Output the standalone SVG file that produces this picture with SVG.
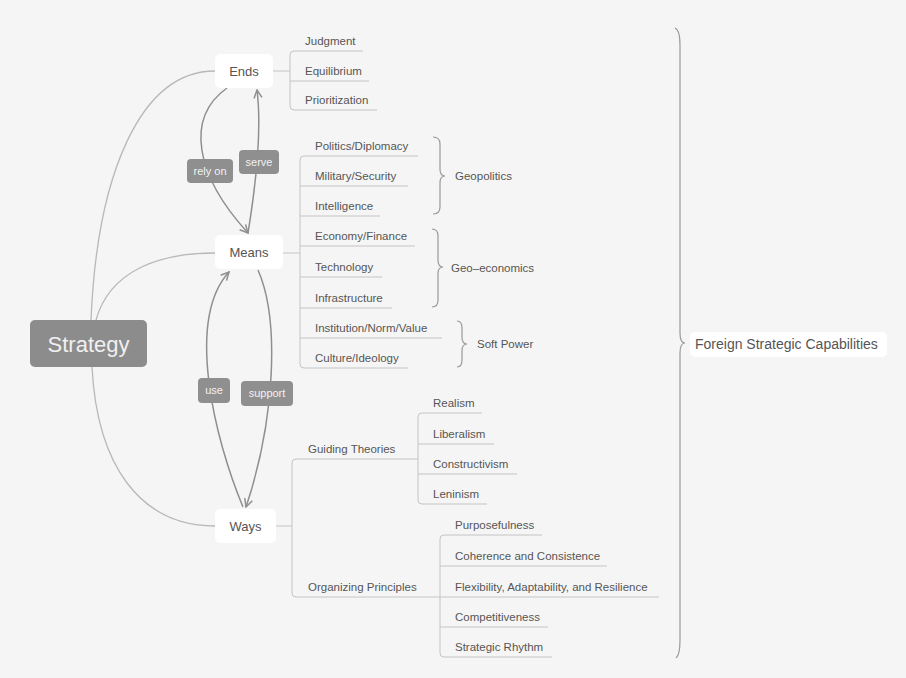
<svg xmlns="http://www.w3.org/2000/svg" width="906" height="678" viewBox="0 0 906 678">
<style>
text{font-family:"Liberation Sans",Arial,sans-serif;fill:#555}
.c{font-size:11.5px}
.n{font-size:13px;text-anchor:middle}
.lbl{font-size:11px;fill:#f2f2f2;text-anchor:middle}
.tree{fill:none;stroke:#c4c4c4;stroke-width:1}
.main{fill:none;stroke:#b8b8b8;stroke-width:1.3}
.rel{fill:none;stroke:#8f8f8f;stroke-width:1.5}
.br{fill:none;stroke:#999;stroke-width:1.2}
.box{fill:#fff}
.tag{fill:#8f8f8f}
</style>
<defs>
<marker id="ah" viewBox="0 0 10 10" refX="9" refY="5" markerWidth="10" markerHeight="10" markerUnits="userSpaceOnUse" orient="auto">
<path d="M1,1 L9,5 L1,9" fill="none" stroke="#8f8f8f" stroke-width="1.5"/>
</marker>
</defs>
<rect width="906" height="678" fill="#f5f5f5"/>

<g id="connectors">
<path class="main" d="M91 320 C97 175 140 71 215 71"/>
<path class="main" d="M96 320 C110 270 160 253 215 253"/>
<path class="main" d="M92 367 C97 465 140 526 215 526"/>
<path class="tree" d="M273 71 H290"/>
<path class="tree" d="M283 253 H300"/>
<path class="tree" d="M276 526 H292"/>
<path class="rel" d="M227 88 C185 118 195 175 248 233" marker-end="url(#ah)"/>
<path class="rel" d="M248 233 C255 190 262 130 257 90" marker-end="url(#ah)"/>
<path class="rel" d="M243 507 C215 440 185 320 229 272" marker-end="url(#ah)"/>
<path class="rel" d="M258 270 C280 320 275 420 246 507" marker-end="url(#ah)"/>
</g>

<g id="strategy">
<rect x="30" y="320" width="117" height="47" rx="5" fill="#8c8c8c"/>
<text x="88.5" y="352" style="font-size:22px;fill:#f0f0f0;text-anchor:middle">Strategy</text>
</g>

<g id="ends">
<rect class="box" x="215" y="54" width="58" height="34" rx="5"/>
<text class="n" x="244" y="76">Ends</text>
</g>
<g id="means">
<rect class="box" x="215" y="235" width="68" height="34" rx="5"/>
<text class="n" x="249" y="257">Means</text>
</g>
<g id="ways">
<rect class="box" x="215" y="509" width="61" height="34" rx="5"/>
<text class="n" x="245.5" y="531">Ways</text>
</g>

<g id="label-rely-on">
<rect class="tag" x="187" y="159" width="46" height="24" rx="4"/>
<text class="lbl" x="210" y="175">rely on</text>
</g>
<g id="label-serve">
<rect class="tag" x="239" y="150" width="40" height="24" rx="4"/>
<text class="lbl" x="259" y="166">serve</text>
</g>
<g id="label-use">
<rect class="tag" x="198" y="378" width="32" height="25" rx="4"/>
<text class="lbl" x="214" y="394">use</text>
</g>
<g id="label-support">
<rect class="tag" x="241" y="381" width="52" height="25" rx="4"/>
<text class="lbl" x="267" y="397">support</text>
</g>

<g id="ends-children">
<path class="tree" d="M363 51 H294 Q290 51 290 55 V106 Q290 110 294 110 H377 M290 81 H369"/>
<text class="c" x="305" y="45">Judgment</text>
<text class="c" x="305" y="75">Equilibrium</text>
<text class="c" x="305" y="104">Prioritization</text>
</g>

<g id="means-children">
<path class="tree" d="M418 156 H304 Q300 156 300 160 V364 Q300 368 304 368 H408 M300 186 H408 M300 216 H380 M300 246 H415 M300 277 H382 M300 308 H392 M300 338 H442"/>
<text class="c" x="315" y="150">Politics/Diplomacy</text>
<text class="c" x="315" y="180">Military/Security</text>
<text class="c" x="315" y="210">Intelligence</text>
<text class="c" x="315" y="240">Economy/Finance</text>
<text class="c" x="315" y="271">Technology</text>
<text class="c" x="315" y="302">Infrastructure</text>
<text class="c" x="315" y="332">Institution/Norm/Value</text>
<text class="c" x="315" y="362">Culture/Ideology</text>
</g>

<g id="geopolitics">
<path class="br" d="M433 137 Q440 137 440 144 V169 Q440 176 445 176 Q440 176 440 183 V207 Q440 214 433 214"/>
<text class="c" x="455" y="180">Geopolitics</text>
</g>
<g id="geo-economics">
<path class="br" d="M432 229 Q438 229 438 236 V260 Q438 267 443 267 Q438 267 438 274 V300 Q438 307 432 307"/>
<text class="c" x="451" y="272">Geo–economics</text>
</g>
<g id="soft-power">
<path class="br" d="M457 321 Q462 321 462 328 V337 Q462 344 467 344 Q462 344 462 351 V360 Q462 367 457 367"/>
<text class="c" x="477" y="348">Soft Power</text>
</g>

<g id="ways-children">
<path class="tree" d="M418 459 H296 Q292 459 292 463 V593 Q292 597 296 597 H659"/>
<text class="c" x="308" y="453">Guiding Theories</text>
<text class="c" x="308" y="591">Organizing Principles</text>
</g>
<g id="guiding-theories-children">
<path class="tree" d="M482 413 H422 Q418 413 418 417 V500 Q418 504 422 504 H487 M418 444 H494 M418 474 H517"/>
<text class="c" x="433" y="407">Realism</text>
<text class="c" x="433" y="438">Liberalism</text>
<text class="c" x="433" y="468">Constructivism</text>
<text class="c" x="433" y="498">Leninism</text>
</g>
<g id="organizing-principles-children">
<path class="tree" d="M542 535 H444 Q440 535 440 539 V653 Q440 657 444 657 H552 M440 566 H607 M440 627 H548"/>
<text class="c" x="455" y="529">Purposefulness</text>
<text class="c" x="455" y="560">Coherence and Consistence</text>
<text class="c" x="455" y="591">Flexibility, Adaptability, and Resilience</text>
<text class="c" x="455" y="621">Competitiveness</text>
<text class="c" x="455" y="651">Strategic Rhythm</text>
</g>

<g id="foreign-strategic-capabilities">
<path class="br" d="M675 28 Q680 30 680 45 V333 Q680 343 685 343 Q680 343 680 353 V640 Q680 655 676 658"/>
<rect class="box" x="690" y="332" width="197" height="25" rx="5"/>
<text x="695" y="349" style="font-size:14px">Foreign Strategic Capabilities</text>
</g>
</svg>
